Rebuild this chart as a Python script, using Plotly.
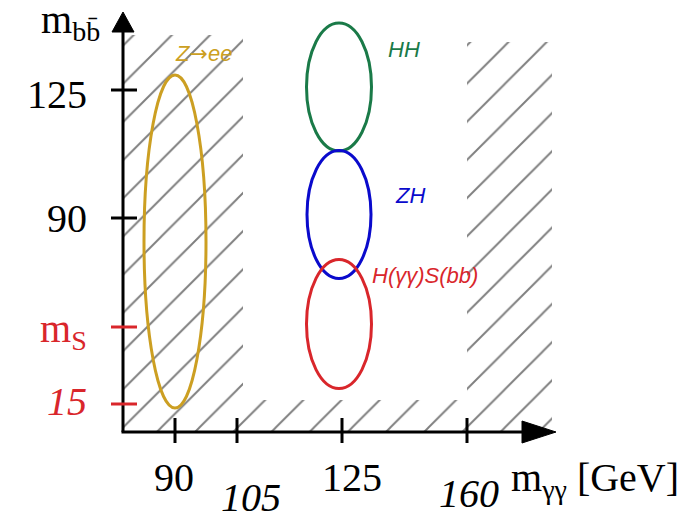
import plotly.graph_objects as go

# ---------------- data (schematic axis units) ----------------
x_tick_labels = ["90", "105", "125", "160"]
x_tick_pos = [52, 114, 219, 344]
x_tick_italic = [False, True, False, True]

y_tick_labels = ["125", "90", "m<sub>S</sub>", "15"]
y_tick_pos = [342, 214, 105, 28]
y_tick_italic = [False, False, False, True]
y_tick_colors = ["black", "black", "#d9262b", "#d9262b"]

sig_names = ["HH", "ZH", "H(γγ)S(bb)",
             "Z<span style='font-family:DejaVu Sans'>→</span>ee"]
sig_cx = [216, 216, 216, 52]
sig_cy = [345, 217.5, 108, 190.5]
sig_rx = [32.5, 32, 32.5, 31]
sig_ry = [64, 64, 64.5, 166.5]
sig_colors = ["#1a7a48", "#0a0acc", "#d9262b", "#cc9f22"]

# excluded (hatched) region outline
excl_x = [0, 0, 120, 120, 344, 344, 429, 429, 0]
excl_y = [0, 397, 397, 32, 32, 390, 390, 0, 0]

# ---------------- style ----------------
SERIF = "Liberation Serif"
SANS = "Liberation Sans"
AX_W = 3
sig_label_pos = [(281, 383), (287, 237), (302, 157), (80, 379)]
x_label_off = [(-1, -45), (14, -65), (10, -45), (2, -61)]
y_label_dy = [-4, 0, -4, 3]

fig = go.Figure()

fig.add_trace(go.Scatter(
    x=excl_x, y=excl_y, mode="lines", fill="toself",
    line=dict(width=0, color="rgba(0,0,0,0)"),
    fillcolor="rgba(0,0,0,0)",
    fillpattern=dict(shape="/", size=27, solidity=0.072, fgcolor="black",
                     bgcolor="rgba(0,0,0,0)"),
    hoverinfo="skip", showlegend=False))

shapes = []
# axes
y_top = max(excl_y) + 3
x_end = max(excl_x) - 30
shapes.append(dict(type="line", xref="x", yref="y", x0=0, y0=0, x1=0, y1=y_top,
                   line=dict(color="black", width=AX_W)))
shapes.append(dict(type="line", xref="x", yref="y", x0=-1.5, y0=0, x1=x_end, y1=0,
                   line=dict(color="black", width=AX_W)))
# arrow heads
shapes.append(dict(type="path", xref="x", yref="y",
                   path=f"M -11 {y_top} L 11 {y_top} L 0 {y_top + 20} Z",
                   fillcolor="black", line=dict(color="black", width=1)))
shapes.append(dict(type="path", xref="x", yref="y",
                   path=f"M {x_end} -11 L {x_end} 11 L {x_end + 34} 0 Z",
                   fillcolor="black", line=dict(color="black", width=1)))

# ticks
for p in x_tick_pos:
    shapes.append(dict(type="line", xref="x", yref="y", x0=p, y0=-11, x1=p, y1=14,
                       line=dict(color="black", width=AX_W)))
for p, c in zip(y_tick_pos, y_tick_colors):
    shapes.append(dict(type="line", xref="x", yref="y", x0=-12, y0=p, x1=14, y1=p,
                       line=dict(color=c, width=AX_W)))

# signal ellipses
for cx, cy, rx, ry, c in zip(sig_cx, sig_cy, sig_rx, sig_ry, sig_colors):
    shapes.append(dict(type="circle", xref="x", yref="y",
                       x0=cx - rx, x1=cx + rx, y0=cy - ry, y1=cy + ry,
                       line=dict(color=c, width=3)))

annotations = []
for lab, p, it, (dx, dy) in zip(x_tick_labels, x_tick_pos, x_tick_italic, x_label_off):
    annotations.append(dict(x=p + dx, y=dy, xref="x", yref="y",
                            text=f"<i>{lab}</i>" if it else lab, showarrow=False,
                            xanchor="center", yanchor="middle",
                            font=dict(family=SERIF, size=40, color="black")))
for lab, p, it, c, dy in zip(y_tick_labels, y_tick_pos, y_tick_italic, y_tick_colors, y_label_dy):
    annotations.append(dict(x=-34, y=p + dy, xref="x", yref="y",
                            text=f"<i>{lab}</i>" if it else lab, showarrow=False,
                            xanchor="right", yanchor="middle",
                            font=dict(family=SERIF, size=40, color=c)))
for name, (px, py), c in zip(sig_names, sig_label_pos, sig_colors):
    annotations.append(dict(x=px, y=py, xref="x", yref="y", text=f"<i>{name}</i>",
                            showarrow=False, xanchor="center", yanchor="middle",
                            font=dict(family=SANS, size=22, color=c)))
# axis titles
annotations.append(dict(x=-84, y=410, xref="x", yref="y", text="m<sub>bb̄</sub>",
                        showarrow=False, xanchor="left", yanchor="middle",
                        font=dict(family=SERIF, size=40, color="black")))
annotations.append(dict(x=386, y=-48, xref="x", yref="y",
                        text="m<sub>γγ</sub> [GeV]", showarrow=False,
                        xanchor="left", yanchor="middle",
                        font=dict(family=SERIF, size=40, color="black")))
# small cut-off glyph at the top-right corner of the original image
annotations.append(dict(x=563, y=423, xref="x", yref="y", text="x",
                        showarrow=False, xanchor="center", yanchor="bottom",
                        font=dict(family=SANS, size=16, color="#333333")))

# page body has an 8px margin: shift the data window so marks land where intended
fig.update_layout(
    width=689, height=515,
    margin=dict(l=0, r=0, t=0, b=0),
    paper_bgcolor="white", plot_bgcolor="white",
    xaxis=dict(range=[-115, 574], visible=False, fixedrange=True),
    yaxis=dict(range=[-91, 424], visible=False, fixedrange=True),
    shapes=shapes, annotations=annotations, showlegend=False)

fig.write_html("out.html", config={"displayModeBar": False})
